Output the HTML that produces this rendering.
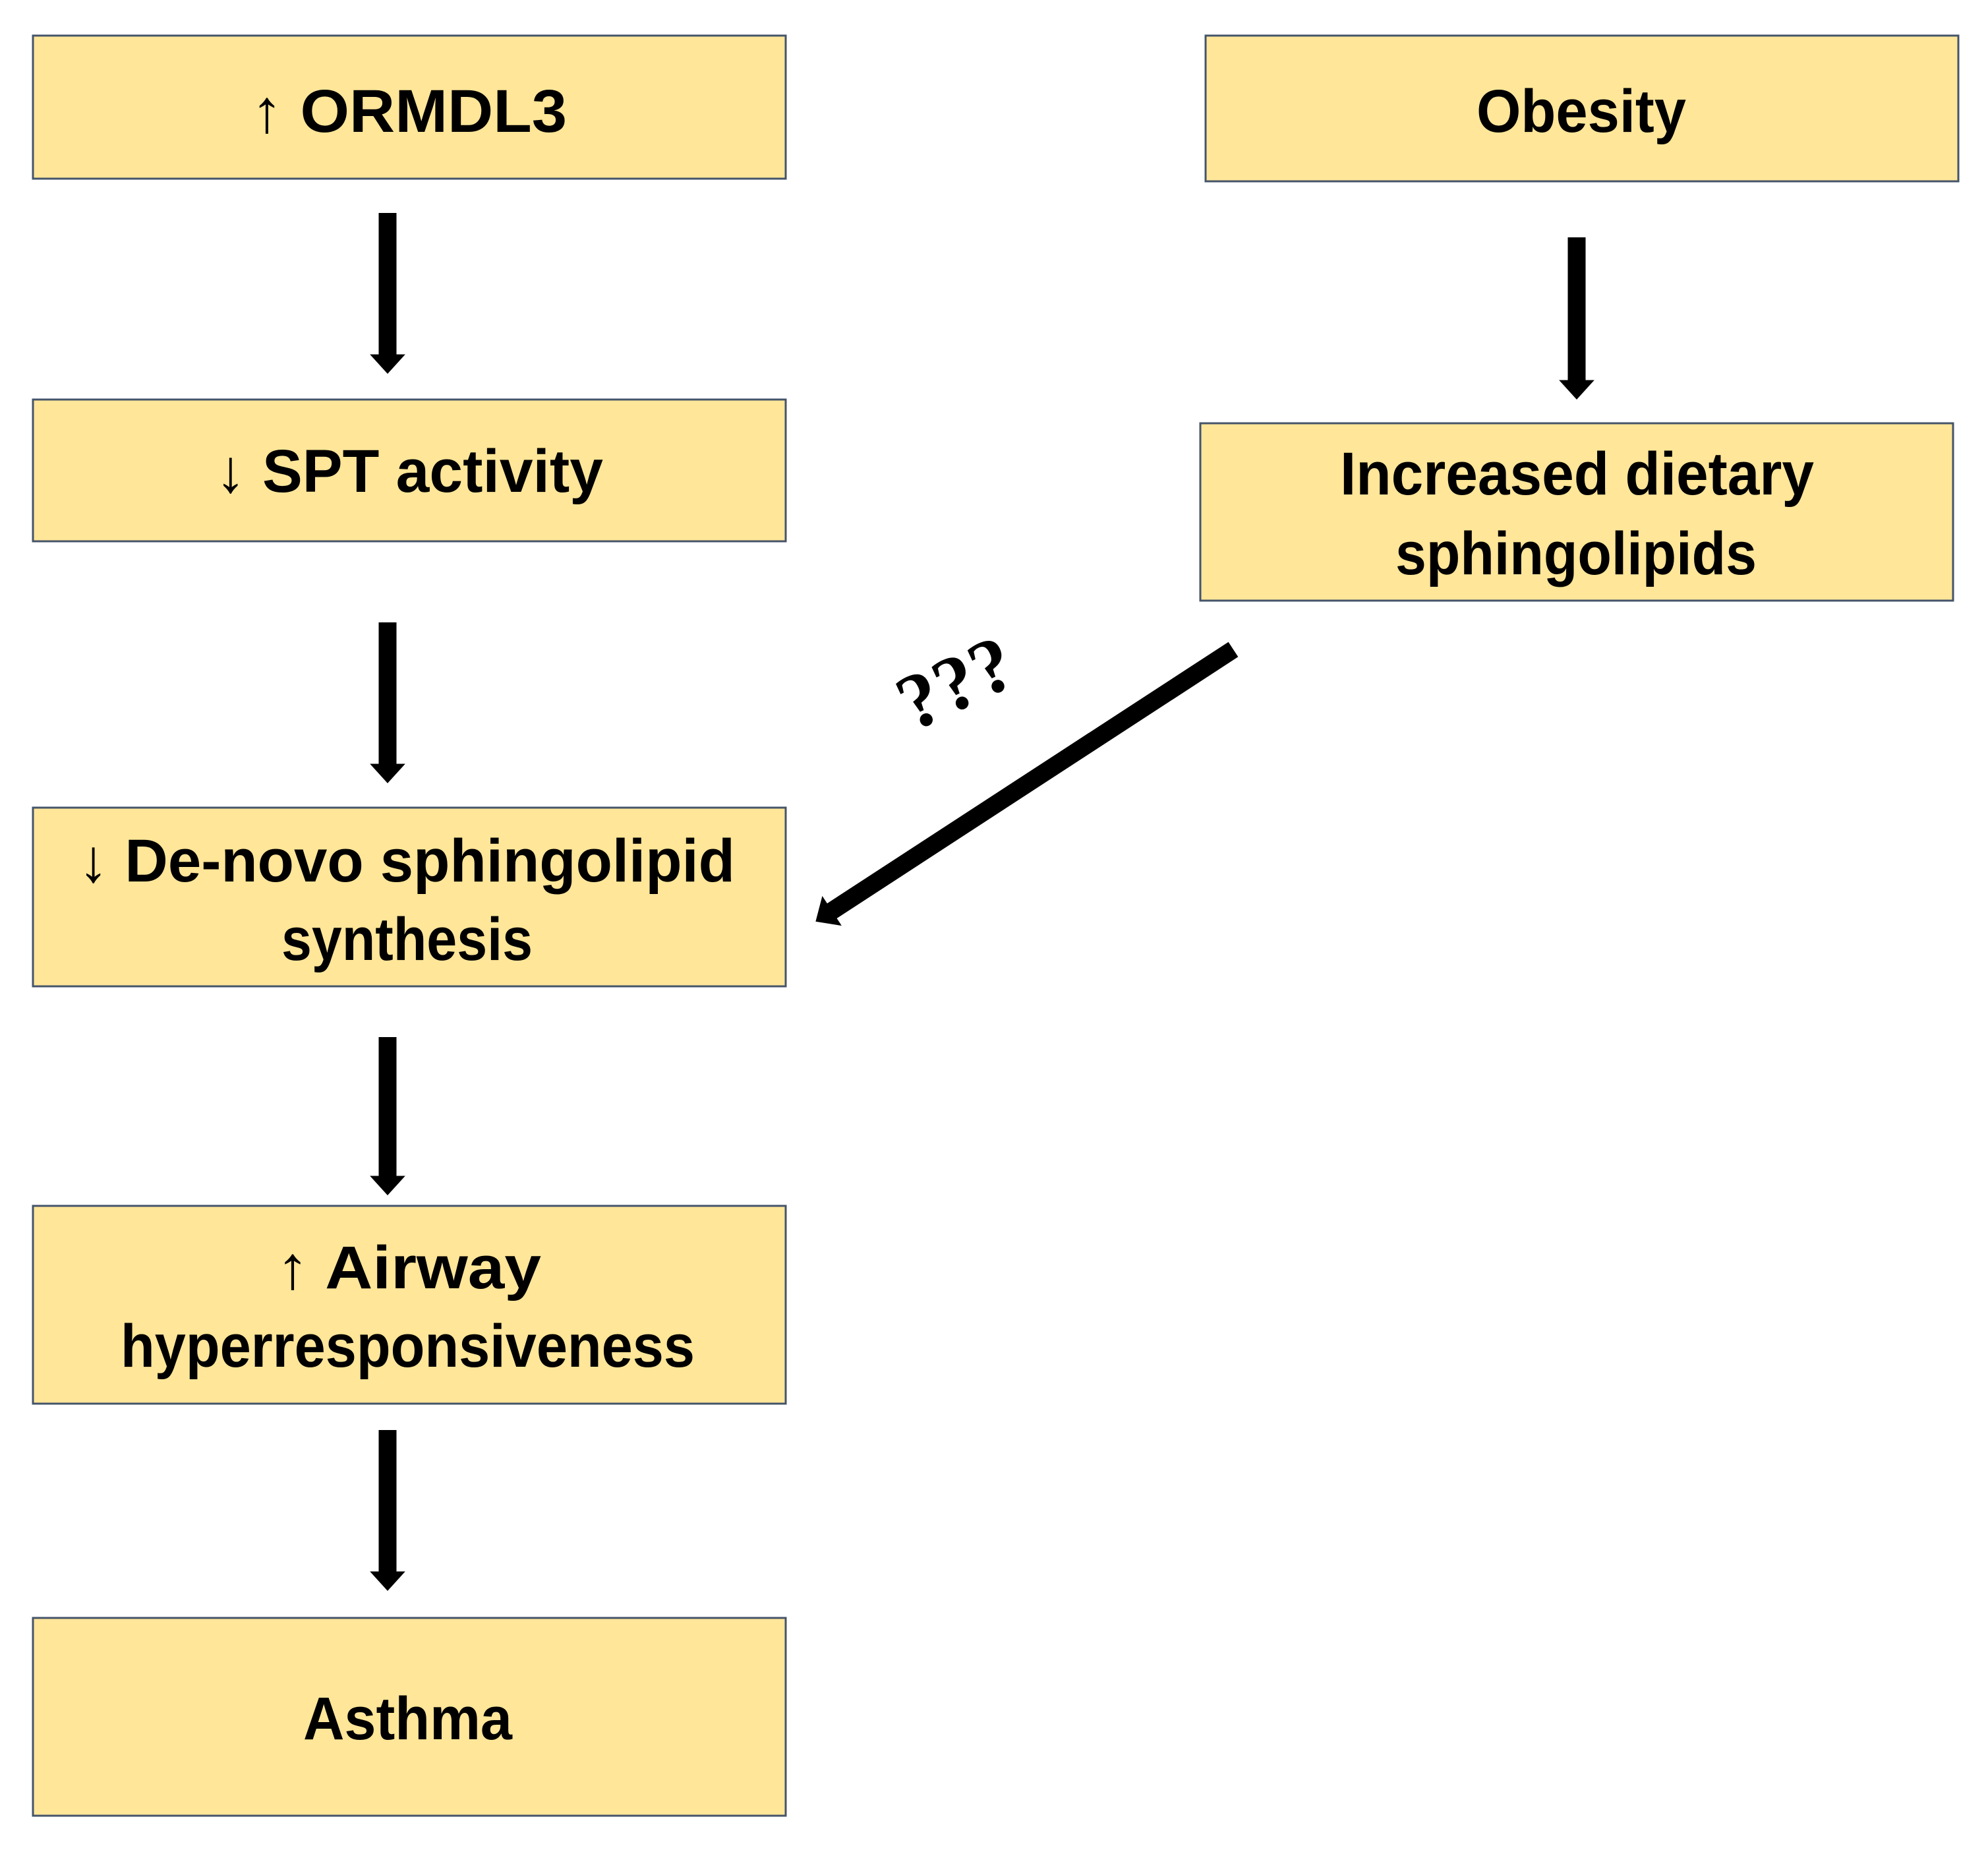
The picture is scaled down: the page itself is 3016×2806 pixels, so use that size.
<!DOCTYPE html>
<html><head><meta charset="utf-8"><style>
html,body{margin:0;padding:0;background:#fff}
svg{display:block}
text{font-family:"Liberation Sans",sans-serif;font-weight:bold;font-size:92px;fill:#000}
</style></head><body>
<svg width="3016" height="2806" viewBox="0 0 3016 2806">
<defs>
<marker id="ah" markerWidth="2" markerHeight="2" refX="0.1" refY="1" orient="auto" markerUnits="strokeWidth">
<path d="M0,0 L1.1,1 L0,2 Z" fill="#000"/>
</marker>
</defs>
<g fill="#FFE699" stroke="#44546a" stroke-width="3">
<rect x="50" y="54" width="1142" height="217"/>
<rect x="1829" y="54" width="1142" height="221"/>
<rect x="50" y="606" width="1142" height="215"/>
<rect x="1821" y="642" width="1142" height="269"/>
<rect x="50" y="1225" width="1142" height="271"/>
<rect x="50" y="1829" width="1142" height="300"/>
<rect x="50" y="2454" width="1142" height="300"/>
</g>
<g stroke="#000" stroke-width="27" fill="none" marker-end="url(#ah)">
<line x1="588" y1="323" x2="588" y2="540"/>
<line x1="588" y1="944" x2="588" y2="1161"/>
<line x1="588" y1="1573" x2="588" y2="1786"/>
<line x1="588" y1="2169" x2="588" y2="2386"/>
<line x1="2392" y1="360" x2="2392" y2="579"/>
<line x1="1871" y1="985" x2="1260" y2="1383"/>
</g>
<text x="381" y="200" textLength="479" lengthAdjust="spacingAndGlyphs">↑ ORMDL3</text>
<text x="2240" y="200" textLength="318" lengthAdjust="spacingAndGlyphs">Obesity</text>
<text x="327" y="746" textLength="588" lengthAdjust="spacingAndGlyphs">↓ SPT activity</text>
<text x="2033" y="750" textLength="719" lengthAdjust="spacingAndGlyphs">Increased dietary</text>
<text x="2117" y="871" textLength="548" lengthAdjust="spacingAndGlyphs">sphingolipids</text>
<text x="119" y="1337" textLength="996" lengthAdjust="spacingAndGlyphs">↓ De-novo sphingolipid</text>
<text x="427" y="1456" textLength="381" lengthAdjust="spacingAndGlyphs">synthesis</text>
<text x="419" y="1954" textLength="402" lengthAdjust="spacingAndGlyphs">↑ Airway</text>
<text x="183" y="2073" textLength="871" lengthAdjust="spacingAndGlyphs">hyperresponsiveness</text>
<text x="460" y="2638" textLength="317" lengthAdjust="spacingAndGlyphs">Asthma</text>
<g transform="translate(1385,1110) rotate(-25)">
<text x="0" y="0" style="font-family:'Liberation Serif',serif;font-size:120px">???</text>
</g>
</svg>
</body></html>
